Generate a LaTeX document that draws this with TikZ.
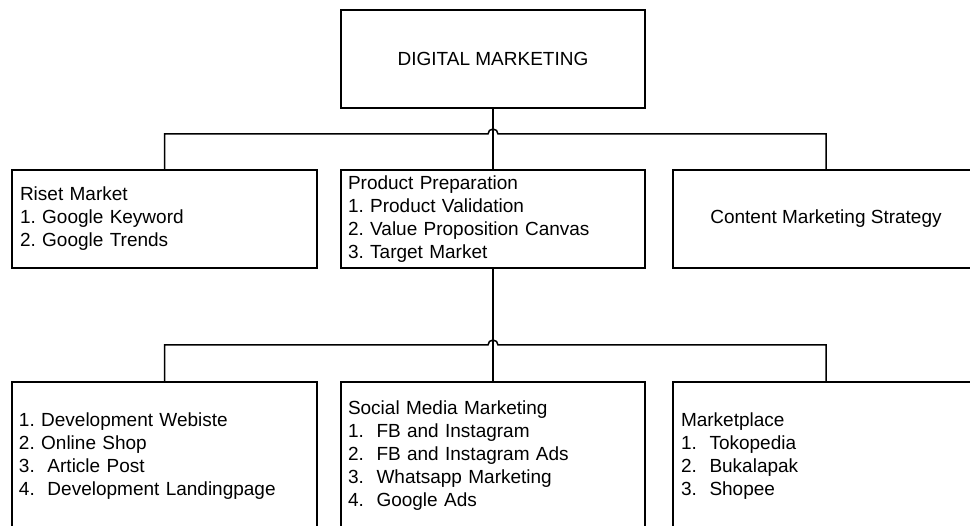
\documentclass[tikz,border=0pt]{standalone}
\usepackage{fontspec}
\setmainfont{Liberation Sans}
\usepackage{tikz}

\tikzset{
    box/.style={rectangle, draw, line width=1.5pt, inner sep=0pt,
        minimum height=98pt, font=\fontsize{19}{23}\selectfont\frenchspacing},
    listed/.style={align=left, text width=#1},
    link/.style={line width=1.5pt}
}

\begin{document}
\begin{tikzpicture}[x=1pt, y=-1pt]
    \useasboundingbox (0, 0) rectangle (970, 526);
    \clip (0, 0) rectangle (970, 526);

    % top of the tree
    \node[box, minimum width=304pt] (dm) at (493, 59) {DIGITAL MARKETING};

    % first row
    \node[box, minimum width=305pt, listed=289pt] (riset) at (164.5, 219)
        {Riset Market\\1. Google Keyword\\2. Google Trends};
    \node[box, minimum width=304pt, listed=290pt] (product) at (493, 219)
        {Product Preparation\\1. Product Validation\\2. Value Proposition Canvas\\3. Target Market};
    \node[box, minimum width=306pt] (content) at (826, 219) {Content Marketing Strategy};

    % second row
    \node[box, minimum width=305pt, minimum height=148pt, listed=291pt] (web) at (164.5, 456)
        {1. Development Webiste\\2. Online Shop\\3.\ \ Article Post\\4.\ \ Development Landingpage};
    \node[box, minimum width=304pt, minimum height=148pt, listed=290pt] (social) at (493, 456)
        {Social Media Marketing\\1.\ \ FB and Instagram\\2.\ \ FB and Instagram Ads\\3.\ \ Whatsapp Marketing\\4.\ \ Google Ads};
    \node[box, minimum width=306pt, minimum height=148pt, listed=290pt] (market) at (826, 456)
        {Marketplace\\1.\ \ Tokopedia\\2.\ \ Bukalapak\\3.\ \ Shopee};

    \coordinate (hubA) at (493, 134);
    \coordinate (hubB) at (493, 345);

    % connectors, both bars hop over the middle line
    \draw[link] (dm) -- (product);
    \draw[link] (riset.north) |- ([xshift=-5pt]hubA)
        arc[start angle=180, end angle=0, radius=5pt] -| (content.north);
    \draw[link] (product) -- (social);
    \draw[link] (web.north) |- ([xshift=-5pt]hubB)
        arc[start angle=180, end angle=0, radius=5pt] -| (market.north);
\end{tikzpicture}
\end{document}
